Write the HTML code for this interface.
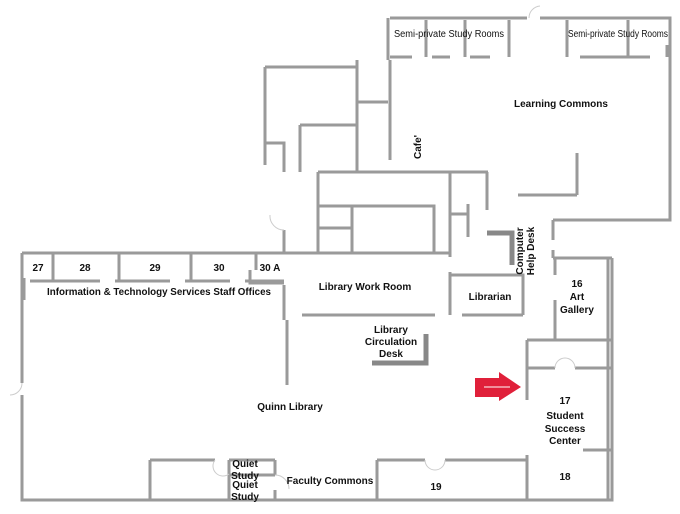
<!DOCTYPE html>
<html><head><style>
html,body{margin:0;padding:0;background:#fff;}
svg{display:block;}
text{font-family:"Liberation Sans",sans-serif;font-size:10px;font-weight:bold;fill:#111;}
</style></head><body>
<svg width="680" height="514" viewBox="0 0 680 514">
<g stroke="#9a9a9a" stroke-width="3" fill="none">
<path d="M22 253H287M22 253V383M22 395V500H612V258"/>
<path d="M24 278V300M53 253V281M119 253V281M191 253V281M256 253V270M250 270V283H284"/>
<path d="M30 281H100M115 281H170M185 281H230M245 281H284"/>
<path d="M284 253V230M284 285V320M287 320V385"/>
<path d="M284 253H450M302 315H435M450 272V315M450 275H523V315M462 315H523"/>
<path d="M318 172V253M318 172H488M318 206H434V253M352 206V253M318 228H352M450 172V257M450 214H468M468 204V237M487 172V210"/>
<path d="M265 67H358M265 67V165M357 60V172M357 102H388M300 125V172M300 125H357M265 143H284V172M388 18V60M390 60V160"/>
<path d="M390 18H527M540 18H670V220H553M577 153V195M518 195H577"/>
<path d="M390 57H412M426 20V57M432 57H450M465 20V57M470 57H490M509 20V57M567 20V57M580 57H650M628 20V57M667 45V57"/>
<path d="M553 220V240M553 250V258M553 258H612M555 258V275M555 300V340M608 258V500M527 340H612M527 340V400M527 455V500M527 368H555M575 368H612M583 450H612"/>
<path d="M150 460V500M150 460H215M229 460H275M229 460V500M275 460V475M275 490V500M229 475H275M377 460V500M377 460H425M445 460H527"/>
</g>
<g stroke="#888" stroke-width="5" fill="none">
<path d="M372 363H426V334"/>
<path d="M487 233H512V265"/>
</g>
<g stroke="#ccc" stroke-width="1" fill="none">
<path d="M22 383A12 12 0 0 1 10 395M529 18A12 12 0 0 1 540 6M425 460A10 10 0 0 0 445 460M555 368A10 10 0 0 1 575 368M284 230A14 14 0 0 1 270 215M275 475A14 14 0 0 1 289 489M215 460A10 10 0 0 0 229 474"/>
</g>
<path d="M475 378H499V372L521 387L499 401V397H475Z" fill="#e0203a"/>
<path d="M484 387H510" stroke="#fff" stroke-width="1"/>
<g>
<text x="394" y="37" font-size="8.5" textLength="110" lengthAdjust="spacingAndGlyphs" style="font-weight:normal">Semi-private Study Rooms</text>
<text x="568" y="37" font-size="8.5" textLength="100" lengthAdjust="spacingAndGlyphs" style="font-weight:normal">Semi-private Study Rooms</text>
<text x="514" y="107">Learning Commons</text>
<text x="421" y="147" transform="rotate(-90 421 147)" text-anchor="middle">Cafe'</text>
<text x="523" y="251" transform="rotate(-90 523 251)" text-anchor="middle" dy="0">Computer</text>
<text x="523" y="251" transform="rotate(-90 523 251)" text-anchor="middle" dy="11">Help Desk</text>
<text x="38" y="271" text-anchor="middle">27</text>
<text x="85" y="271" text-anchor="middle">28</text>
<text x="155" y="271" text-anchor="middle">29</text>
<text x="219" y="271" text-anchor="middle">30</text>
<text x="270" y="271" text-anchor="middle">30 A</text>
<text x="47" y="295" textLength="224" lengthAdjust="spacingAndGlyphs">Information &amp; Technology Services Staff Offices</text>
<text x="365" y="290" text-anchor="middle">Library Work Room</text>
<text x="490" y="300" text-anchor="middle">Librarian</text>
<text x="577" y="287" text-anchor="middle">16</text>
<text x="577" y="300" text-anchor="middle">Art</text>
<text x="577" y="313" text-anchor="middle">Gallery</text>
<text x="391" y="333" text-anchor="middle">Library</text>
<text x="391" y="345" text-anchor="middle">Circulation</text>
<text x="391" y="357" text-anchor="middle">Desk</text>
<text x="290" y="410" text-anchor="middle">Quinn Library</text>
<text x="565" y="404" text-anchor="middle">17</text>
<text x="565" y="419" text-anchor="middle">Student</text>
<text x="565" y="432" text-anchor="middle">Success</text>
<text x="565" y="444" text-anchor="middle">Center</text>
<text x="565" y="480" text-anchor="middle">18</text>
<text x="436" y="490" text-anchor="middle">19</text>
<text x="330" y="484" text-anchor="middle">Faculty Commons</text>
<text x="245" y="467" text-anchor="middle">Quiet</text>
<text x="245" y="479" text-anchor="middle">Study</text>
<text x="245" y="488" text-anchor="middle">Quiet</text>
<text x="245" y="500" text-anchor="middle">Study</text>
</g>
</svg>
</body></html>
